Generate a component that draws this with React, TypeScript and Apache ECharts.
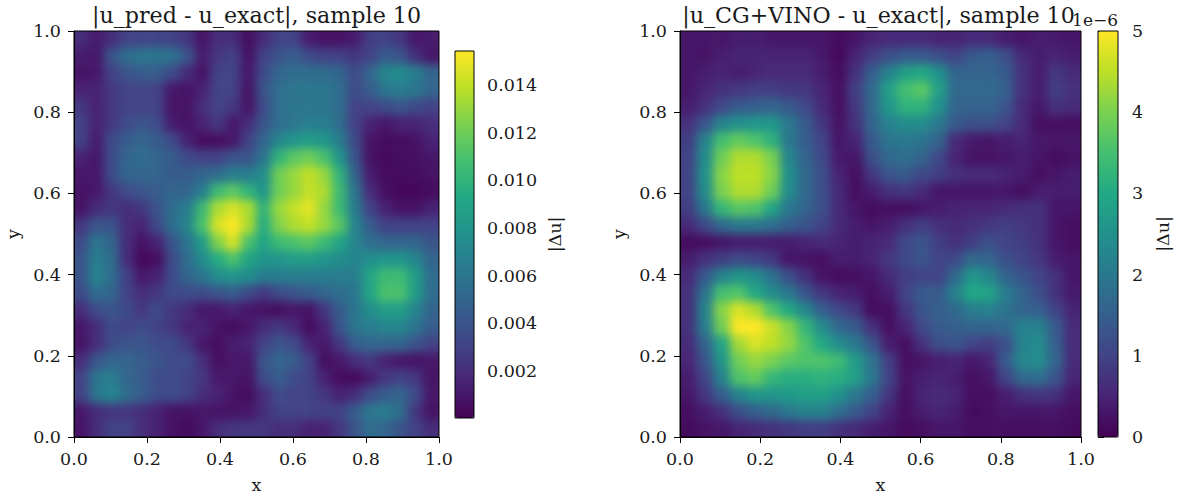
import React, { useEffect, useRef } from "react";
import * as echarts from "echarts";

// Cell values, top row first. Left panel in units of 1e-3, right panel in units of 1e-6.
const predRows = [
  [2,1.2,2,3,3.2,3.2,3,2.5,0.8,2,2,0.6,2,3,3,1.2,0.8,0.8,1.2,2.8,3,2.5,1,1.2],
  [1.2,1,4,5.5,6,6,5.8,4,1.2,2.5,3,0.8,3,4,4.5,3.5,3,3,2.5,3,4.5,4,2.2,1],
  [0.8,1,3,4,4.5,4.5,3.5,2,0.8,3,3,1,3.5,5,5.5,5.5,5.5,5,3.5,5,7,7.5,6.5,5],
  [1.5,1.5,2.5,3,3,3,1,0.8,1.5,3,3,0.8,4,5.5,6,6,6,5.5,3.5,4.5,6,6.5,6,5],
  [2.5,1.5,2.5,3,3,3,0.8,0.8,2,3,2.5,0.8,3.5,5.5,6,6,6,5.5,3,3,3.5,4,3.5,3],
  [3,1.5,2.5,3.5,4,3.5,1.2,0.8,1.5,2.5,1,2,4,5.5,6,6.5,6.5,5.5,3,1.5,1,1.5,1.5,2],
  [3,1.2,3.5,4.5,5,4.5,3.5,1.5,0.5,0.6,1,3,5,7,8,8.5,8,6.5,3.5,0.8,0.5,0.6,0.8,1.5],
  [1.5,1,3.5,5,5.5,5,4.5,3.5,3,3,4,4,6,10,11.5,12,11,8,4,0.8,0.4,0.6,0.7,1],
  [1,1,3.5,5,5,5,4.5,4.5,5,5.5,6.5,6.5,7.5,12,13,14,13,10,5,1.2,0.5,0.5,0.6,0.8],
  [0.8,1,2.5,3.5,4,4.5,5,5,6.5,10.5,11.5,10,8,12,13,14,13.5,10.5,6,2,0.7,0.3,0.3,0.5],
  [0.8,2,2.5,2,2.5,4,5.5,6.5,10.5,13.5,14.5,13.5,10,13,14,14.8,13,10.5,6.5,3,1.5,0.8,0.8,1.5],
  [2.5,4,4,2,1.5,3.5,5.5,7,11,14.5,15.4,13.5,9.5,12.5,13.5,14,13,11.5,7,4.5,3,3,3,3],
  [3.5,6,5,2,0.8,1.5,4,6,8.5,12.5,14.5,11,9,10.5,11,11.5,10.5,9,7,5.5,5,5,5,4],
  [4,6.5,5.5,2,0.3,0.6,3.5,5.5,7.5,9.5,11,9,8,8,8.5,8.5,8,7.5,7,7.5,8,8,7,5],
  [4,7,5.5,3,1,1.5,3.5,5,6,7.5,8,7.5,6.5,6.5,6.5,6.5,6.5,6.5,6.5,9,10.5,10.5,8.5,5.5],
  [3.5,5.5,5,3,2,2.5,3.5,3.5,3.5,4,4.5,3.5,2.5,3.5,4,4.5,5,5.5,6,9,11,11,8.5,5.5],
  [2,3.5,4,3.5,2.5,3.5,2.5,2,1,1,1.5,1,0.8,0.6,1,0.8,2.5,4.5,6,7.5,8.5,8.5,7,5],
  [1,2,3.5,3,3.5,3,2.5,1.5,1.5,0.8,0.5,1,2,2.5,1.8,0.5,1.5,4,6,6.5,7,7,6,4.5],
  [0.8,2,3.5,4,4,3.5,3.5,2.5,1,0.5,1.2,1.5,3,4,3.5,1.5,1,2.5,4.5,5,5,5,4,3],
  [2,4,5,5,4.5,4,3.5,3.5,2,0.6,1,1,4,5,4.5,3,0.6,1,2,2.5,1.5,1,0.8,1],
  [3,6,6.5,5,4.5,3.5,3.5,3,2.5,1,1,0.8,3.5,4.5,3.5,3,1.5,0.5,0.4,1.2,2.5,3,2.5,0.8],
  [3,6,7,5.5,4.5,3.5,3.5,3,2,1.5,0.8,0.5,2,3.5,3,3,2.5,1.5,2,3.5,4.5,5,3.5,1],
  [1,2,2.5,2.5,2,1.5,0.8,0.8,1,0.8,0.8,1,2,3,3,3,3,3,4.5,6,6.5,5.5,2.5,0.8],
  [0.8,2,3,3,2,1.5,0.8,0.5,1,2,2.5,2.5,2.5,2,2,1.5,1.5,2.5,4,5.5,5,4,3,2],
];

const vinoRows = [
  [.3,.3,.3,.4,.4,.3,.3,.3,.3,.15,.3,.5,.6,.6,.6,.5,.5,.6,.6,.4,.3,.4,.35,.3],
  [.3,.25,.4,.5,.5,.5,.5,.5,.35,.1,.5,.9,1.2,1.4,1.4,1.2,1,1.4,1.5,1.2,.6,.4,.5,.4],
  [.3,.4,.5,.4,.5,.6,.6,.6,.4,.15,.7,1.5,2.2,2.8,3,2.5,1.6,1.6,1.6,1.4,.7,.4,.8,.6],
  [.3,.5,.7,.8,.9,.9,.8,.8,.5,.2,.9,1.7,2.8,3.5,3.7,2.8,1.7,1.7,1.7,1.5,.7,.4,.9,.7],
  [.4,.7,1.1,1.4,1.5,1.6,1.4,1.1,.6,.2,.8,1.7,2.6,3.2,3.2,2.5,1.6,1.6,1.6,1.3,.6,.3,.7,.6],
  [.7,1.3,2.2,2.5,2.6,2.6,2,1.4,.8,.25,.7,1.6,2.2,2.4,2.4,2,1.4,1.2,1.2,1,.6,.2,.2,.2],
  [.9,2.2,3.5,3.8,3.6,3.2,2,1.5,1,.3,.5,1.4,1.9,2,1.9,1.6,.6,.35,.3,.4,.5,.3,.3,.3],
  [1,2.4,3.9,4.4,4.4,4,2.3,1.6,1.1,.35,.3,1.2,1.7,1.8,1.6,1.1,.5,.25,.25,.3,.4,.3,.15,.25],
  [1,2.5,4.1,4.5,4.5,4.1,2.5,1.7,1.2,.5,.2,.8,1.3,1.4,1.1,.9,.7,.6,.6,.5,.4,.2,.3,.4],
  [1,2.4,4,4.4,4.4,3.9,2.4,1.7,1.2,.6,.2,.4,.7,.8,.6,.3,.3,.3,.3,.3,.2,.4,.4,.4],
  [.9,2,3.3,3.7,3.6,2.9,2,1.6,1.2,.6,.3,.15,.2,.2,.3,.4,.5,.5,.5,.6,.7,.7,.3,.3],
  [.6,1.1,1.7,2,2,1.8,1.5,1.3,1,.6,.4,.3,.4,.7,.9,.7,.6,.7,.8,.9,.8,.7,.3,.2],
  [.15,.2,.3,.4,.4,.4,.4,.5,.6,.5,.4,.5,.6,1.1,1.3,.9,.7,.9,1.2,1,.9,.7,.3,.2],
  [.4,.7,.9,1.1,1,.8,.3,.25,.2,.4,.4,.5,.8,1.1,1.3,1,1.1,1.7,1.6,1.2,1,.8,.4,.3],
  [.6,1.4,2.2,2.6,2.4,1.9,1.2,.7,.25,.15,.2,.3,.6,.9,1,1,1.7,2.6,2.3,1.6,1.3,1,.7,.3],
  [.7,1.9,3.5,3.6,3,2.4,2,1.3,.8,.5,.4,.2,.4,1,1.4,1.4,2.2,3,2.9,2.1,1.6,1.2,.7,.35],
  [.7,2.2,4.1,4.7,4.4,3.6,3,2.3,1.5,1.1,.8,.15,.2,.8,1.3,1.5,1.7,2.1,2.2,1.9,1.6,1.5,1,.5],
  [.7,2.1,3.9,5,5,4.6,4.1,3.3,2.4,1.7,1.4,.7,.2,.5,1.1,1.4,1.5,1.6,1.6,1.7,2.2,2.2,1.4,.6],
  [.6,1.6,2.9,4.3,4.7,4.5,4.2,3.6,3,2.4,2,1.3,.4,.2,.7,1.2,1.3,1,.9,1.2,2.2,2.4,1.5,.6],
  [.5,1.3,2.6,3.9,4.2,4,3.7,3.6,3.6,3.4,2.7,1.9,.9,.2,.25,.4,.5,.3,.5,1.4,2.3,2.4,1.6,.6],
  [.4,1,2.2,3.6,3.8,3.3,3.1,3.1,3.2,3.1,2.8,2,1,.25,.4,.5,.4,.2,.3,1,1.7,1.8,1.3,.5],
  [.3,.8,1.5,2.2,2.6,2.6,2.7,2.8,2.8,2.5,2,1.5,.8,.2,.5,.6,.5,.2,.2,.4,.7,.8,.7,.3],
  [.2,.4,.7,1.2,1.5,1.7,2,2.2,2.2,1.8,1.4,1,.5,.2,.4,.5,.4,.15,.2,.3,.3,.3,.3,.2],
  [.15,.25,.3,.5,.6,.7,.8,.9,.9,.7,.6,.4,.3,.15,.2,.3,.3,.2,.2,.2,.2,.2,.2,.15],
];

const axisTicks = [0, 0.2, 0.4, 0.6, 0.8, 1];
const predBarTicks = [2, 4, 6, 8, 10, 12, 14];
const vinoBarTicks = [0, 1, 2, 3, 4, 5];
const predTitle = "|u_pred - u_exact|, sample 10";
const vinoTitle = "|u_CG+VINO - u_exact|, sample 10";
const viridis = ["#440154","#482475","#414487","#355f8d","#2a788e","#21918c","#22a884","#44bf70","#7ad151","#bddf26","#fde725"];

const FONT = "DejaVu Serif";
const INK = "#1a1a1a";
const label = { fontFamily: FONT, fontSize: 17.5, color: INK };
const PAD = 3; // edge cells repeated outside the clipped plot so the soft focus does not fade at the frame
const BLUR = 5;

const panels = [
  { left: 74, right: 439, top: 31, bottom: 437, bar: [455, 474, 51, 418], rows: predRows, range: [0.03, 15.43], ticks: predBarTicks, title: predTitle,
    fmt: (v: number) => (v / 1000).toFixed(3), barGap: 72, barMargin: 13, titleShift: -5 },
  { left: 680, right: 1081, top: 31, bottom: 437, bar: [1098, 1118, 31, 437], rows: vinoRows, range: [0, 5], ticks: vinoBarTicks, title: vinoTitle,
    fmt: (v: number) => String(v), barGap: 36, barMargin: 14, titleShift: -7 },
];

function heatOption(p: (typeof panels)[number]) {
  const nr = p.rows.length, nc = p.rows[0].length;
  const data: number[][] = [];
  for (let r = -PAD; r < nr + PAD; r++) {
    for (let c = -PAD; c < nc + PAD; c++) {
      const row = p.rows[Math.min(nr - 1, Math.max(0, r))];
      data.push([c + PAD, r + PAD, row[Math.min(nc - 1, Math.max(0, c))]]);
    }
  }
  const idx = (n: number) => Array.from({ length: n + 2 * PAD }, (_, i) => String(i));
  return {
    animation: false,
    grid: { left: 0, right: 0, top: 0, bottom: 0, outerBoundsMode: "none" },
    xAxis: { type: "category", data: idx(nc), show: false },
    yAxis: { type: "category", data: idx(nr), show: false, inverse: true },
    visualMap: { type: "continuous", show: false, min: p.range[0], max: p.range[1], inRange: { color: viridis } },
    series: [{ type: "heatmap", data, emphasis: { disabled: true }, progressive: 0 }],
  };
}

function frameOption() {
  const grid: any[] = [], xAxis: any[] = [], yAxis: any[] = [], visualMap: any[] = [], graphic: any[] = [], title: any[] = [];
  panels.forEach((p, i) => {
    const g = i * 2;
    grid.push({ left: p.left, width: p.right - p.left, top: p.top, height: p.bottom - p.top, outerBoundsMode: "none" });
    grid.push({ left: p.bar[0], width: p.bar[1] - p.bar[0], top: p.bar[2], height: p.bar[3] - p.bar[2], outerBoundsMode: "none" });
    const valueAxis = (name: string, gap: number, margin: number) => ({
      gridIndex: g, type: "value", min: 0, max: 1, interval: 0.2, name, nameLocation: "middle", nameGap: gap,
      nameTextStyle: { ...label },
      axisLine: { show: true, onZero: false, lineStyle: { color: "#000", width: 1 } },
      axisTick: { show: true, length: 6, lineStyle: { color: "#000" } },
      axisLabel: { ...label, margin, formatter: (v: number) => v.toFixed(1), customValues: axisTicks },
      splitLine: { show: false },
    });
    xAxis.push({ ...valueAxis("x", 39, 13), position: "bottom" });
    yAxis.push({ ...valueAxis("y", 52, 13), position: "left", nameRotate: 90 });
    xAxis.push({ gridIndex: g + 1, type: "value", min: 0, max: 1, show: false });
    yAxis.push({
      gridIndex: g + 1, type: "value", min: p.range[0], max: p.range[1], position: "right",
      name: "|Δu|", nameLocation: "middle", nameGap: p.barGap, nameRotate: 90, nameTextStyle: { ...label },
      axisLine: { show: false }, axisTick: { show: true, length: 6, lineStyle: { color: "#000" }, customValues: p.ticks },
      axisLabel: { ...label, margin: p.barMargin, formatter: p.fmt, customValues: p.ticks }, splitLine: { show: false },
    });
    visualMap.push({
      type: "continuous", seriesIndex: [], min: p.range[0], max: p.range[1], show: true, calculable: false, hoverLink: false,
      left: p.bar[0], top: p.bar[2], itemWidth: p.bar[1] - p.bar[0], itemHeight: p.bar[3] - p.bar[2], padding: 0,
      inRange: { color: viridis }, showLabel: false,
    });
    title.push({
      text: p.title, left: (p.left + p.right) / 2 + p.titleShift, top: -1, textAlign: "center",
      textStyle: { fontFamily: FONT, fontSize: 22.2, fontWeight: "normal", color: INK },
    });
    for (const [x0, x1, y0, y1] of [[p.left, p.right, p.top, p.bottom], p.bar]) {
      graphic.push({ type: "rect", z: 100, shape: { x: x0, y: y0, width: x1 - x0, height: y1 - y0 }, style: { fill: "none", stroke: "#000", lineWidth: 1 } });
    }
  });
  graphic.push({ type: "text", z: 100, x: 1118, y: 20, style: { text: "1e−6", fontFamily: FONT, fontSize: 17, fill: INK, textAlign: "right", textVerticalAlign: "middle" } });
  return { animation: false, grid, xAxis, yAxis, visualMap, graphic, title, series: [] };
}

export default function App() {
  const frameRef = useRef<HTMLDivElement>(null);
  const heatRefs = useRef<(HTMLDivElement | null)[]>([]);
  useEffect(() => {
    const charts = panels.map((p, i) => {
      const c = echarts.init(heatRefs.current[i]!, undefined, { renderer: "svg" });
      c.setOption(heatOption(p) as any);
      return c;
    });
    const frame = echarts.init(frameRef.current!, undefined, { renderer: "svg" });
    frame.setOption(frameOption() as any);
    return () => {
      frame.dispose();
      charts.forEach((c) => c.dispose());
    };
  }, []);
  return (
    <div style={{ position: "absolute", left: 0, top: 0, width: 1178, height: 499, background: "#fff", overflow: "hidden" }}>
      {panels.map((p, i) => {
        const w = p.right - p.left, h = p.bottom - p.top;
        const px = (PAD * w) / p.rows[0].length, py = (PAD * h) / p.rows.length;
        return (
          <div key={i} style={{ position: "absolute", left: p.left, top: p.top, width: w, height: h, overflow: "hidden" }}>
            <div
              ref={(el) => { heatRefs.current[i] = el; }}
              style={{ position: "absolute", left: -px, top: -py, width: w + 2 * px, height: h + 2 * py, filter: `blur(${BLUR}px)` }}
            />
          </div>
        );
      })}
      <div ref={frameRef} style={{ position: "absolute", left: 0, top: 0, width: 1178, height: 499 }} />
    </div>
  );
}
